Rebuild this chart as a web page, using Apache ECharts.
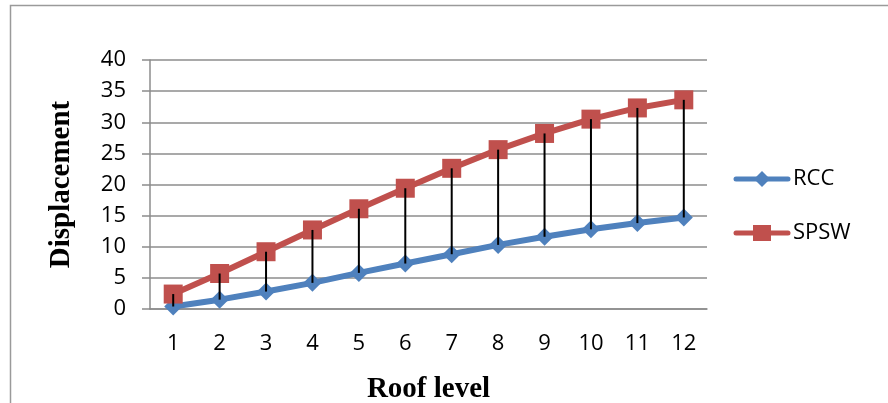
<!DOCTYPE html>
<html>
<head>
<meta charset="utf-8">
<script src="https://cdn.jsdelivr.net/npm/echarts@6/dist/echarts.min.js"></script>
<style>
  html, body { margin: 0; padding: 0; background: #fff; }
  #chart { width: 888px; height: 403px; }
</style>
</head>
<body>
<div id="chart"></div>
<script>
// Roof level categories and displacement per structural system
const roofLevels = ['1', '2', '3', '4', '5', '6', '7', '8', '9', '10', '11', '12'];
const rccDisp = [0.4, 1.5, 2.8, 4.2, 5.8, 7.3, 8.8, 10.3, 11.6, 12.8, 13.8, 14.7];
const spswDisp = [2.4, 5.7, 9.2, 12.7, 16.1, 19.4, 22.6, 25.6, 28.2, 30.5, 32.3, 33.6];
const seriesNames = ['RCC', 'SPSW'];

// High-low connector rows: [category index, low, high]
const hiLow = roofLevels.map((_, i) => [i, rccDisp[i], spswDisp[i]]);

const tickFont = 'Open Sans';
const gridGrey = '#8c8c8c';
const blue = '#4f81bd';
const red = '#c0504d';

// Legend entry: thick line with the series marker in the middle, label to the right
function legendEntry(y, color, symbol, label) {
  const mark = symbol === 'diamond'
    ? { type: 'polygon', shape: { points: [[762, y - 8], [770, y], [762, y + 8], [754, y]] }, style: { fill: color } }
    : { type: 'rect', shape: { x: 753, y: y - 8, width: 18, height: 16 }, style: { fill: color } };
  return {
    type: 'group',
    silent: true,
    children: [
      { type: 'line', shape: { x1: 736, y1: y, x2: 788, y2: y }, style: { stroke: color, lineWidth: 5, lineCap: 'round' } },
      mark,
      { type: 'text', x: 793, y: y, style: { text: label, fontFamily: tickFont, fontSize: 22, fill: '#000', verticalAlign: 'middle' } }
    ]
  };
}

const chart = echarts.init(document.getElementById('chart'));
chart.setOption({
  animation: false,
  graphic: [
    {
      type: 'rect',
      shape: { x: 10.5, y: 5.5, width: 920, height: 450 },
      style: { fill: 'none', stroke: '#9a9a9a', lineWidth: 1.5 },
      silent: true,
      z: -10
    },
    legendEntry(179, blue, 'diamond', seriesNames[0]),
    legendEntry(233, red, 'rect', seriesNames[1])
  ],
  grid: { left: 150, right: 181, top: 60, bottom: 94, containLabel: false, outerBoundsMode: 'none' },
  xAxis: {
    type: 'category',
    data: roofLevels,
    boundaryGap: true,
    name: 'Roof level',
    nameLocation: 'middle',
    nameGap: 66,
    nameTextStyle: { fontFamily: 'Liberation Serif', fontWeight: 'bold', fontSize: 29, color: '#000' },
    axisLine: { show: true, lineStyle: { color: gridGrey, width: 1.5 } },
    axisTick: { show: false },
    axisLabel: { fontFamily: tickFont, fontSize: 22, color: '#000', margin: 24 },
    splitLine: { show: false }
  },
  yAxis: {
    type: 'value',
    min: 0,
    max: 40,
    interval: 5,
    name: 'Displacement',
    nameLocation: 'middle',
    nameGap: 74,
    nameRotate: 90,
    nameTextStyle: { fontFamily: 'Liberation Serif', fontWeight: 'bold', fontSize: 29, color: '#000' },
    axisLine: { show: true, lineStyle: { color: gridGrey, width: 1.5 } },
    axisTick: { show: true, length: 8, lineStyle: { color: gridGrey, width: 1.5 } },
    axisLabel: { fontFamily: tickFont, fontSize: 22, color: '#000', margin: 24 },
    splitLine: { show: true, lineStyle: { color: gridGrey, width: 1.5 } }
  },
  series: [
    {
      name: seriesNames[0],
      type: 'line',
      data: rccDisp,
      symbol: 'diamond',
      symbolSize: 18,
      lineStyle: { color: blue, width: 6 },
      itemStyle: { color: blue },
      z: 3
    },
    {
      name: seriesNames[1],
      type: 'line',
      data: spswDisp,
      symbol: 'rect',
      symbolSize: 19,
      lineStyle: { color: red, width: 6 },
      itemStyle: { color: red },
      z: 4
    },
    {
      name: 'hilo',
      type: 'custom',
      data: hiLow,
      z: 10,
      silent: true,
      renderItem: function (params, api) {
        const lo = api.coord([api.value(0), api.value(1)]);
        const hi = api.coord([api.value(0), api.value(2)]);
        return {
          type: 'line',
          shape: { x1: lo[0], y1: lo[1], x2: hi[0], y2: hi[1] },
          style: { stroke: '#000', lineWidth: 2 }
        };
      }
    }
  ]
});
</script>
</body>
</html>
